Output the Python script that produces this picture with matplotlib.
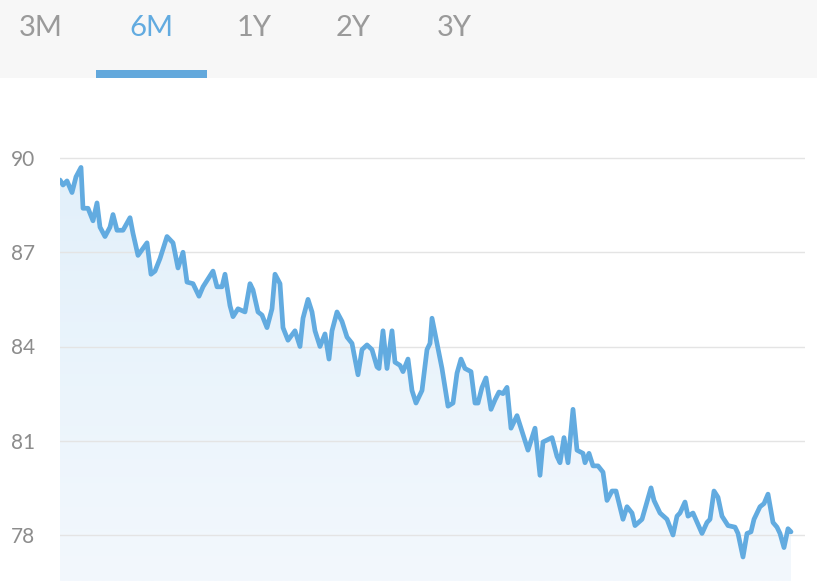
import numpy as np
import matplotlib
matplotlib.use("Agg")
import matplotlib.pyplot as plt
from matplotlib.patches import Rectangle

# ---- data ----
tabs = ["3M", "6M", "1Y", "2Y", "3Y"]
active_tab = "6M"
y_ticks = [78, 81, 84, 87, 90]

day = [0.0, 0.75, 1.75, 3.0, 4.0, 5.25, 5.75, 7.0, 8.25, 9.25, 10.0, 11.25, 12.5, 13.25,
       14.25, 15.75, 17.5, 18.25, 19.5, 21.75, 22.75, 23.75, 25.0, 26.75, 28.25, 29.5,
       30.75, 31.75, 33.25, 34.75, 35.75, 38.25, 39.25, 40.5, 41.25, 42.5, 43.25, 44.5,
       46.25, 47.5, 48.25, 49.5, 50.5, 51.75, 53.0, 53.75, 55.0, 55.75, 57.0, 58.75,
       60.0, 60.75, 62.0, 63.0, 63.75, 65.0, 66.25, 67.25, 68.0, 69.25, 70.5, 71.75,
       73.0, 74.5, 75.5, 76.75, 78.0, 79.25, 79.75, 80.75, 81.75, 83.0, 83.75, 85.0,
       85.75, 87.0, 88.0, 89.0, 90.5, 91.75, 92.5, 93.0, 94.25, 95.5, 97.0, 98.25,
       99.25, 100.25, 101.25, 102.75, 103.75, 104.5, 105.5, 106.5, 107.75, 108.75,
       109.75, 110.75, 111.75, 112.75, 114.25, 116.0, 117.0, 118.75, 120.0, 120.75,
       123.0, 124.25, 125.0, 126.0, 127.0, 128.25, 129.25, 130.75, 131.25, 132.25,
       133.25, 134.5, 135.75, 136.75, 138.0, 139.0, 140.75, 141.75, 143.0, 143.75,
       145.5, 146.75, 147.75, 148.5, 150.0, 151.75, 153.25, 154.25, 155.0, 156.25,
       157.0, 158.25, 160.5, 161.75, 162.5, 163.5, 164.5, 165.5, 167.0, 168.75,
       169.5, 170.75, 171.75, 172.75, 173.5, 175.0, 176.0, 177.0, 178.25, 179.25,
       180.0, 181.0, 182.0, 182.75]
price = [89.3, 89.14, 89.27, 88.9, 89.4, 89.7, 88.4, 88.4, 88.0, 88.57, 87.8, 87.5,
         87.8, 88.2, 87.7, 87.7, 88.1, 87.6, 86.9, 87.3, 86.3, 86.4, 86.8, 87.5, 87.3,
         86.5, 87.0, 86.05, 86.0, 85.6, 85.9, 86.4, 85.9, 85.9, 86.3, 85.3, 84.95,
         85.2, 85.1, 86.0, 85.8, 85.1, 85.0, 84.6, 85.2, 86.3, 86.0, 84.6, 84.2, 84.5,
         84.0, 84.9, 85.5, 85.1, 84.5, 84.0, 84.4, 83.6, 84.5, 85.1, 84.8, 84.3, 84.1,
         83.1, 83.9, 84.05, 83.9, 83.35, 83.3, 84.5, 83.3, 84.5, 83.5, 83.4, 83.2,
         83.6, 82.6, 82.2, 82.6, 83.9, 84.1, 84.9, 84.1, 83.3, 82.1, 82.2, 83.15,
         83.6, 83.3, 83.2, 82.2, 82.2, 82.7, 83.0, 82.0, 82.3, 82.55, 82.5, 82.7,
         81.4, 81.8, 81.1, 80.7, 81.4, 79.9, 80.96, 81.1, 80.5, 80.3, 81.1, 80.3,
         82.0, 80.7, 80.6, 80.3, 80.6, 80.2, 80.2, 80.0, 79.1, 79.4, 79.4, 78.5,
         78.9, 78.7, 78.3, 78.5, 79.05, 79.5, 79.1, 78.7, 78.5, 78.0, 78.6, 78.7,
         79.05, 78.6, 78.7, 78.05, 78.4, 78.5, 79.4, 79.2, 78.6, 78.3, 78.25, 78.05,
         77.3, 78.05, 78.1, 78.5, 78.9, 79.0, 79.3, 78.4, 78.25, 78.05, 77.6, 78.2,
         78.1]

# ---- style ----
LINE = "#62ABE0"
GRAY_TXT = "#9A9A9A"
W, H = 817, 581

fig = plt.figure(figsize=(W / 100, H / 100), dpi=100)
fig.patch.set_facecolor("white")

# tab bar
bar = fig.add_axes([0, 1 - 78 / H, 1, 78 / H])
bar.set_xlim(0, W)
bar.set_ylim(78, 0)
bar.axis("off")
bar.add_patch(Rectangle((0, 0), W, 78, facecolor="#F7F7F7", edgecolor="none"))
tab_x = [41, 151, 254, 353, 454]
for label, tx in zip(tabs, tab_x):
    bar.text(tx, 28, label, ha="center", va="center", fontsize=21,
             family=["Lato", "DejaVu Sans"],
             color=LINE if label == active_tab else GRAY_TXT)
bar.add_patch(Rectangle((96, 70), 111, 8, facecolor="#62A8DC", edgecolor="none"))

# chart
left, right, top = 60, 805, 100
ax = fig.add_axes([left / W, 0, (right - left) / W, (H - top) / H])
px_per_unit = (535 - 158) / 12.0
y_top = 90 + (158 - top) / px_per_unit
y_bot = 90 - (H - 158) / px_per_unit

for s in ax.spines.values():
    s.set_visible(False)
ax.set_xticks([])
ax.set_yticks(y_ticks)
ax.set_yticklabels([str(v) for v in y_ticks])
ax.tick_params(axis="y", length=0, pad=18, labelsize=15, labelcolor="#8C8C8C")
for lbl in ax.get_yticklabels():
    lbl.set_family(["Lato", "DejaVu Sans"])
for v in y_ticks:
    ax.axhline(v, color="#E4E4E4", lw=1.0, zorder=1)

# gradient fill under the line
poly = ax.fill_between(day, price, y_bot, facecolor="none", edgecolor="none")
grad = np.linspace(0, 1, 256).reshape(-1, 1)
c_top = np.array([226, 240, 250]) / 255
c_bot = np.array([243, 248, 253]) / 255
img = c_top[None, None, :] * (1 - grad[:, :, None]) + c_bot[None, None, :] * grad[:, :, None]
im = ax.imshow(img, extent=[0, day[-1], y_bot, max(price)], origin="upper",
               aspect="auto", zorder=0.5)
path = poly.get_paths()[0]
im.set_clip_path(path, transform=ax.transData)
ax.set_xlim(0, (right - left) / 4)
ax.set_ylim(y_bot, y_top)

ax.plot(day, price, color=LINE, lw=3.4, solid_joinstyle="round",
        solid_capstyle="round", zorder=3)

fig.savefig("out.png", dpi=100)
